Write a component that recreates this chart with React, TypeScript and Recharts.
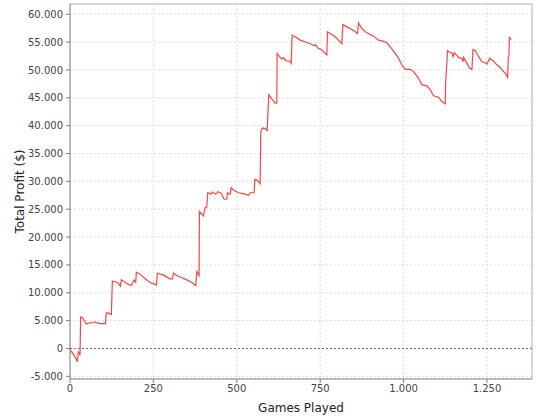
import React from 'react';
import { LineChart, Line, XAxis, YAxis, CartesianGrid, ReferenceLine } from 'recharts';

// Games played (x) and cumulative profit (y)
const games = [
  0, 5, 15, 18, 22, 25, 30, 32, 38, 49, 59, 74, 89, 106, 109, 124, 127, 142, 151, 154,
  169, 184, 192, 197, 199, 209, 224, 239, 259, 262, 279, 299, 307, 310, 324, 344, 364, 377, 380, 387,
  388, 400, 405, 410, 413, 423, 427, 437, 443, 453, 462, 470, 472, 480, 483, 490, 505, 520, 535, 540,
  552, 554, 562, 570, 572, 577, 585, 591, 596, 605, 615, 620, 621, 628, 635, 640, 648, 658, 663, 666,
  675, 690, 710, 725, 733, 736, 742, 755, 765, 770, 772, 780, 795, 810, 815, 818, 830, 845, 855, 862,
  865, 875, 890, 910, 925, 935, 950, 960, 975, 985, 995, 1005, 1020, 1030, 1045, 1055, 1070, 1080, 1090, 1105,
  1115, 1125, 1126, 1132, 1140, 1145, 1148, 1152, 1165, 1175, 1178, 1180, 1190, 1198, 1205, 1208, 1215, 1225, 1235, 1245,
  1250, 1258, 1268, 1280, 1290, 1295, 1305, 1312, 1314, 1316, 1317, 1323,
];

const profit = [
  -200, -600, -1500, -1800, -2400, -600, -1200, 5650, 5470, 4400, 4570, 4750, 4460, 4460, 6430, 6130, 12070, 11900, 11180, 12320,
  11720, 11300, 12320, 11900, 13680, 13390, 12610, 11900, 11430, 13500, 13210, 12500, 12500, 13500, 12960, 12500, 11900, 11300, 13800, 13090,
  24570, 23800, 25290, 25400, 27960, 27680, 28090, 27680, 28140, 27860, 26790, 26790, 27960, 27680, 28860, 28450, 27960, 27790, 27500, 27960,
  27960, 30360, 30180, 29570, 38980, 39570, 39460, 39110, 45540, 44820, 44040, 44040, 52960, 52380, 51960, 52200, 51610, 51610, 51180, 56250,
  55950, 55360, 54930, 54570, 54340, 54570, 53980, 53570, 52960, 52680, 56840, 56540, 55950, 55050, 54720, 58140, 57730, 57250, 56840, 56540,
  58450, 57430, 56660, 56070, 55360, 55230, 54880, 54160, 52960, 52070, 50890, 50110, 50110, 49700, 48500, 47320, 47140, 46430, 45360, 45110,
  44340, 43930, 47700, 53450, 53090, 53090, 52380, 53090, 52250, 52070, 51480, 52250, 51180, 50290, 50110, 53680, 53450, 52380, 51480, 51300,
  51070, 52070, 51660, 50890, 50460, 50000, 49390, 48630, 52380, 52500, 55820, 55460,
];

const xTicks = [0, 250, 500, 750, 1000, 1250];
const yTicks = [-5000, 0, 5000, 10000, 15000, 20000, 25000, 30000, 35000, 40000, 45000, 50000, 55000, 60000];
const xMax = 1385;
const yMin = -5480;
const yMax = 61840;

const data = games.map((g, i) => ({ games: g, profit: profit[i] }));

const fmt = (v: number) => v.toLocaleString('de-DE');

const font = 'DejaVu Sans, sans-serif';

const App: React.FC = () => {
  return (
    <div style={{ position: 'absolute', left: 0, top: 0, width: 540, height: 420, background: '#fff' }}>
      <LineChart width={540} height={420} data={data} margin={{ top: 4, right: 8, left: 0, bottom: 0 }}>
        <CartesianGrid stroke="#dedede" strokeDasharray="2 2" />
        <XAxis
          dataKey="games"
          type="number"
          domain={[0, xMax]}
          ticks={xTicks}
          tickFormatter={fmt}
          height={41}
          stroke="#808080"
          tickSize={4}
          tickMargin={2}
          tick={{ fill: '#444', fontSize: 10, fontFamily: font }}
          label={{ value: 'Games Played', position: 'insideBottom', offset: 8, style: { fill: '#222', fontSize: 12, fontFamily: font } }}
        />
        <YAxis
          type="number"
          domain={[yMin, yMax]}
          ticks={yTicks}
          tickFormatter={fmt}
          width={70}
          stroke="#808080"
          tickSize={4}
          tickMargin={3}
          tick={{ fill: '#444', fontSize: 10, fontFamily: font }}
          label={{ value: 'Total Profit ($)', angle: -90, position: 'insideLeft', offset: 20, style: { textAnchor: 'middle', fill: '#222', fontSize: 12, fontFamily: font } }}
        />
        <ReferenceLine y={yMax} stroke="#b8b8b8" />
        <ReferenceLine x={xMax} stroke="#b8b8b8" />
        <ReferenceLine y={0} stroke="#5a5aff" strokeDasharray="2 2" />
        <Line
          type="linear"
          dataKey="profit"
          stroke="#ff4444"
          strokeWidth={1.2}
          dot={false}
          isAnimationActive={false}
        />
      </LineChart>
    </div>
  );
};

export default App;
